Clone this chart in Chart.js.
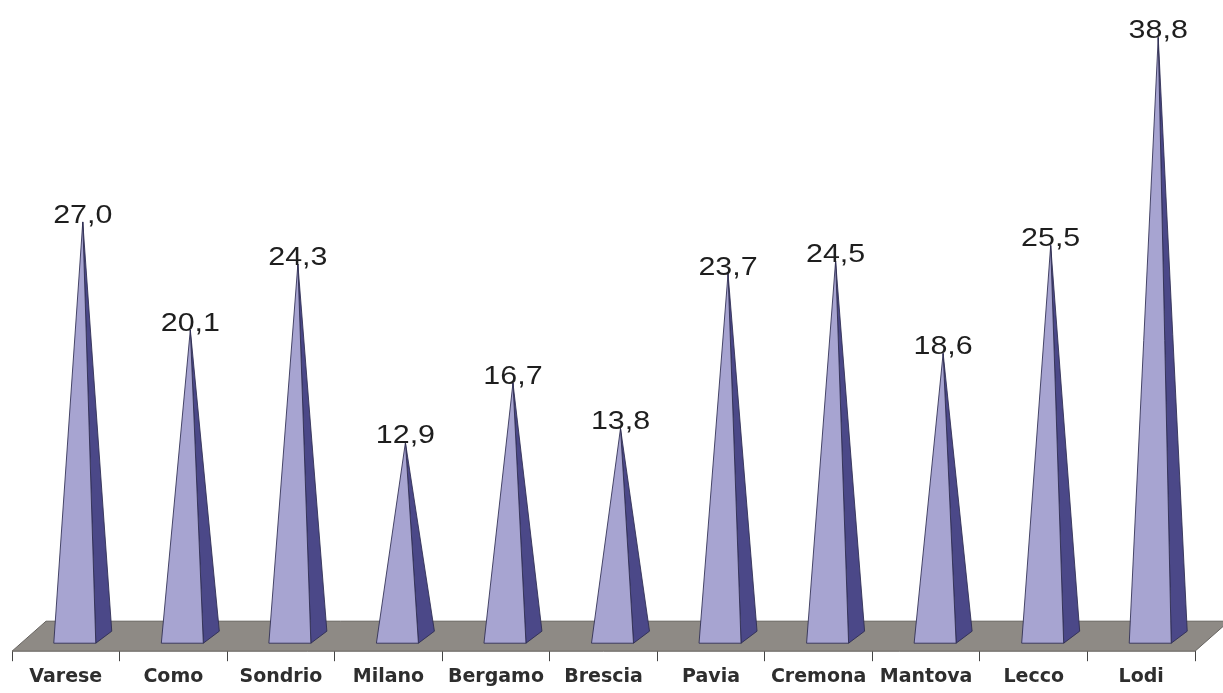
<!DOCTYPE html>
<html>
<head>
<meta charset="utf-8">
<script src="https://cdn.jsdelivr.net/npm/chart.js@4/dist/chart.umd.min.js"></script>
<style>
  html, body { margin: 0; padding: 0; background: #fff; }
  #wrap { width: 1223px; height: 693px; }
</style>
</head>
<body>
<div id="wrap"><canvas id="pyramids"></canvas></div>
<script>
const provinces = ['Varese', 'Como', 'Sondrio', 'Milano', 'Bergamo', 'Brescia', 'Pavia', 'Cremona', 'Mantova', 'Lecco', 'Lodi'];
const rates = [27.0, 20.1, 24.3, 12.9, 16.7, 13.8, 23.7, 24.5, 18.6, 25.5, 38.8];

// 3D look: how far the floor and each pyramid reach "into" the page
const FLOOR_DEPTH = { dx: 34, dy: -30 };
const FACE_SHIFT = { dx: 9, dy: -8 };   // front face of a pyramid, behind the floor edge
const SIDE_DEPTH = { dx: 16, dy: -12 };
const HALF_BASE = 21;

// Grey floor under the pyramids, drawn along the x axis
const floorPlugin = {
  id: 'floor',
  beforeDatasetsDraw(chart) {
    const { ctx, chartArea } = chart;
    const y = chart.scales.y.getPixelForValue(0);
    ctx.save();
    ctx.beginPath();
    ctx.moveTo(chartArea.left, y);
    ctx.lineTo(chartArea.left + FLOOR_DEPTH.dx, y + FLOOR_DEPTH.dy);
    ctx.lineTo(chartArea.right + FLOOR_DEPTH.dx, y + FLOOR_DEPTH.dy);
    ctx.lineTo(chartArea.right, y);
    ctx.closePath();
    ctx.fillStyle = '#8e8a85';
    ctx.fill();
    ctx.strokeStyle = '#66635f';
    ctx.lineWidth = 1;
    ctx.stroke();
    ctx.restore();
  }
};

// Each bar becomes a pyramid: front face + dark right face, value on top
const pyramidPlugin = {
  id: 'pyramids',
  afterDatasetsDraw(chart) {
    const { ctx } = chart;
    const meta = chart.getDatasetMeta(0);
    meta.data.forEach((bar, i) => {
      const cx = bar.x + FACE_SHIFT.dx;
      const by = bar.base + FACE_SHIFT.dy;
      const left = cx - HALF_BASE;
      const right = cx + HALF_BASE;
      const apexX = cx + SIDE_DEPTH.dx / 2;
      const apexY = bar.y + FACE_SHIFT.dy + 1;

      ctx.save();
      ctx.lineJoin = 'round';
      ctx.lineWidth = 1;
      ctx.strokeStyle = 'rgba(45, 43, 80, 0.85)';

      // right face
      ctx.beginPath();
      ctx.moveTo(right, by);
      ctx.lineTo(right + SIDE_DEPTH.dx, by + SIDE_DEPTH.dy);
      ctx.lineTo(apexX, apexY);
      ctx.closePath();
      ctx.fillStyle = '#4b4888';
      ctx.fill();
      ctx.stroke();

      // front face
      ctx.beginPath();
      ctx.moveTo(left, by);
      ctx.lineTo(right, by);
      ctx.lineTo(apexX, apexY);
      ctx.closePath();
      ctx.fillStyle = '#a7a4d1';
      ctx.fill();
      ctx.stroke();

      // value label, wide Arial-like face
      const text = rates[i].toFixed(1).replace('.', ',');
      ctx.translate(apexX, apexY + 1);
      ctx.scale(1.17, 1);
      ctx.font = '26px "Liberation Sans", Arial, sans-serif';
      ctx.fillStyle = '#1e1e1e';
      ctx.textAlign = 'center';
      ctx.textBaseline = 'alphabetic';
      ctx.fillText(text, 0, 0);
      ctx.restore();
    });
  }
};

new Chart(document.getElementById('pyramids'), {
  type: 'bar',
  data: {
    labels: provinces,
    datasets: [{
      data: rates,
      backgroundColor: 'rgba(0,0,0,0)',
      borderWidth: 0,
      categoryPercentage: 1,
      barPercentage: 0.4
    }]
  },
  options: {
    responsive: true,
    maintainAspectRatio: false,
    animation: false,
    layout: { padding: { left: 12, right: 28, top: 10, bottom: 1 } },
    plugins: {
      legend: { display: false },
      tooltip: { enabled: false }
    },
    scales: {
      x: {
        grid: {
          offset: true,
          drawOnChartArea: false,
          drawTicks: true,
          tickLength: 10,
          color: '#444'
        },
        border: { display: false },
        ticks: {
          padding: 4,
          color: '#2e2e2e',
          font: { family: '"DejaVu Sans", sans-serif', size: 19, weight: 'bold' }
        }
      },
      y: {
        display: false,
        min: 0,
        max: 41
      }
    }
  },
  plugins: [floorPlugin, pyramidPlugin]
});
</script>
</body>
</html>
